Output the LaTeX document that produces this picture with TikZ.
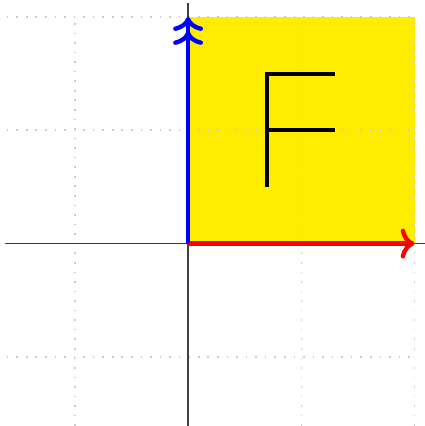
\documentclass[tikz,border=0pt]{standalone}
\usetikzlibrary{arrows.meta}

\begin{document}
\begin{tikzpicture}[
    >={To[length=3.5pt, width=7.5pt]},
    gridline/.style={gray!40, dotted, line width=0.4pt},
    axisline/.style={black!75, line width=0.45pt},
    basisx/.style={red, line width=1.1pt, ->},
    basisy/.style={blue, line width=1.1pt, ->>},
    letterstroke/.style={black, line width=1pt}
  ]
  \useasboundingbox (-1.66,-1.61) rectangle (2.09,2.15);
  % unit square
  \fill[yellow!95!orange] (0,0) rectangle (2,2);
  \draw[gridline] (-1.6,-1.61) grid (2,2);
  % axes
  \coordinate (o) at (0,0);
  \coordinate (xl) at (-1.62,0);
  \coordinate (xr) at (2.09,0);
  \coordinate (yb) at (0,-1.61);
  \coordinate (yt) at (0,2.12);
  \draw[axisline] (xl) -- (xr);
  \draw[axisline] (yb) -- (yt);
  % the letter F
  \coordinate (fbot) at (0.7,0.5);
  \coordinate (ftop) at (0.7,1.5);
  \coordinate (fmid) at (0.7,1.0);
  \coordinate (ftopr) at (1.3,1.5);
  \coordinate (fmidr) at (1.3,1.0);
  \draw[letterstroke] (fbot) -- (ftop) -- (ftopr);
  \draw[letterstroke] (fmid) -- (fmidr);
  % basis vectors
  \coordinate (ex) at (2,0);
  \coordinate (ey) at (0,2);
  \draw[basisx] (o) -- (ex);
  \draw[basisy] (o) -- (ey);
\end{tikzpicture}
\end{document}
